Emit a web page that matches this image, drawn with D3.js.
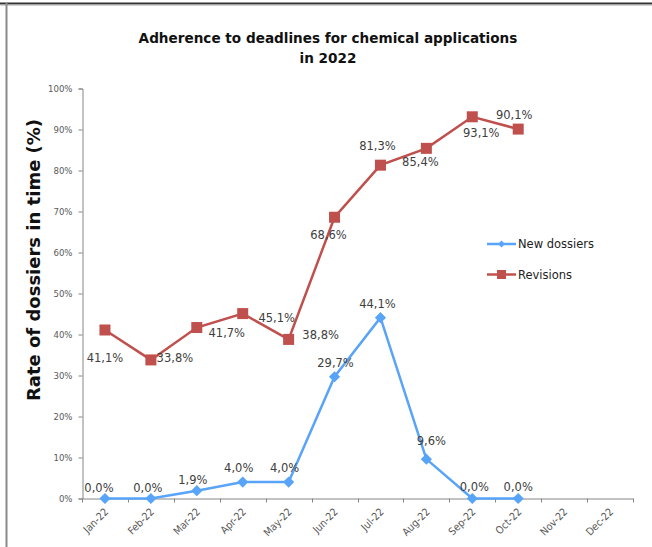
<!DOCTYPE html>
<html>
<head>
<meta charset="utf-8">
<script src="https://cdn.jsdelivr.net/npm/d3@7"></script>
<style>
  body { margin: 0; background: #fff; }
  svg { display: block; }
  .tick text { font-family: "DejaVu Sans Condensed", "DejaVu Sans", sans-serif; font-stretch: condensed; fill: #595959; }
  .lbl { font-family: "DejaVu Sans", Verdana, sans-serif; font-size: 11.5px; fill: #404040; }
</style>
</head>
<body>
<script>
"use strict";
const months = ["Jan-22","Feb-22","Mar-22","Apr-22","May-22","Jun-22","Jul-22","Aug-22","Sep-22","Oct-22","Nov-22","Dec-22"];
const newDossiers = [0.0, 0.0, 1.9, 4.0, 4.0, 29.7, 44.1, 9.6, 0.0, 0.0];
const revisions = [41.1, 33.8, 41.7, 45.1, 38.8, 68.6, 81.3, 85.4, 93.1, 90.1];
const yTicks = [0, 10, 20, 30, 40, 50, 60, 70, 80, 90, 100];

// where Excel put each data label, relative to its marker
const newLabelOffsets = [[-6,-11],[-3,-11],[-4,-11],[-4,-14],[-4,-14],[1,-14],[-3,-14],[5,-18],[2,-12],[0,-12]];
const revLabelOffsets = [[0,28],[24,-2],[30,5],[34,4],[32,-4],[-6,18],[-3,-19],[-6,14],[9,16],[-4,-14]];

const W = 652, H = 547;
const svg = d3.select("body").append("svg").attr("width", W).attr("height", H);

// frame
svg.append("line").attr("x1", 0).attr("x2", W).attr("y1", 3.5).attr("y2", 3.5)
  .attr("stroke", "#333").attr("stroke-width", 2);
svg.append("line").attr("x1", 0).attr("x2", W).attr("y1", 5).attr("y2", 5)
  .attr("stroke", "#aaa").attr("stroke-width", 1);
svg.append("line").attr("x1", 6.5).attr("x2", 6.5).attr("y1", 3).attr("y2", H)
  .attr("stroke", "#8a8a8a").attr("stroke-width", 2);

const x = d3.scaleBand().domain(months).range([82, 633]).padding(0);
const y = d3.scaleLinear().domain([0, 100]).range([498.5, 88.5]);

// title
const title = svg.append("text").attr("text-anchor", "middle")
  .style("font-family", "DejaVu Sans, Verdana, sans-serif").style("font-weight", "bold")
  .style("font-size", "13.6px").attr("fill", "#111");
title.append("tspan").attr("x", 328).attr("y", 43).text("Adherence to deadlines for chemical applications");
title.append("tspan").attr("x", 328).attr("y", 63).text("in 2022");

// y axis title
svg.append("text").attr("transform", "translate(40,260) rotate(-90)").attr("text-anchor", "middle")
  .style("font-family", "DejaVu Sans, Verdana, sans-serif").style("font-weight", "bold")
  .style("font-size", "18px").attr("fill", "#111").text("Rate of dossiers in time (%)");

// axes
const yAxis = svg.append("g").attr("transform", "translate(82.5,0)")
  .call(d3.axisLeft(y).tickValues(yTicks).tickFormat(d => d + "%").tickSize(4).tickPadding(6));
yAxis.selectAll("text").style("font-size", "9.5px");

const xAxis = svg.append("g").attr("transform", `translate(0,${y(0)})`)
  .call(d3.axisBottom(x).tickSize(0).tickFormat(""));
xAxis.selectAll(".tick").remove();
xAxis.selectAll(".bnd").data(months.concat(["end"])).join("line")
  .attr("x1", (d, i) => Math.round(82 + i * x.bandwidth()) + 0.5)
  .attr("x2", (d, i) => Math.round(82 + i * x.bandwidth()) + 0.5)
  .attr("y1", 0).attr("y2", 4).attr("stroke", "#868686");
xAxis.selectAll(".mlab").data(months).join("text")
  .attr("transform", d => `translate(${x(d) + x.bandwidth() / 2 + 4},${14}) rotate(-45)`)
  .attr("text-anchor", "end")
  .style("font-family", "DejaVu Sans Condensed, DejaVu Sans, sans-serif").style("font-stretch", "condensed")
  .style("font-size", "10.5px").attr("fill", "#595959").text(d => d);

svg.selectAll(".domain, .tick line").attr("stroke", "#868686");

const cx = i => x(months[i]) + x.bandwidth() / 2;
const line = d3.line().x((d, i) => cx(i)).y(d => y(d));

const blue = "#58A4F8", red = "#C0504D";

// revisions
svg.append("path").datum(revisions).attr("d", line)
  .attr("fill", "none").attr("stroke", red).attr("stroke-width", 2.5);
svg.selectAll(".rev").data(revisions).join("rect")
  .attr("x", (d, i) => cx(i) - 5.5).attr("y", d => y(d) - 5.5)
  .attr("width", 11).attr("height", 11).attr("fill", red);

// new dossiers
svg.append("path").datum(newDossiers).attr("d", line)
  .attr("fill", "none").attr("stroke", blue).attr("stroke-width", 2.5);
const diamond = d3.symbol().type(d3.symbolDiamond2).size(80);
svg.selectAll(".nd").data(newDossiers).join("path")
  .attr("d", diamond).attr("transform", (d, i) => `translate(${cx(i)},${y(d)})`)
  .attr("fill", blue);

const fmt = v => v.toFixed(1).replace(".", ",") + "%";

svg.selectAll(".revlbl").data(revisions).join("text").attr("class", "lbl")
  .attr("x", (d, i) => cx(i) + revLabelOffsets[i][0]).attr("y", (d, i) => y(d) + revLabelOffsets[i][1])
  .attr("text-anchor", "middle").attr("dominant-baseline", "central").text(fmt);
svg.selectAll(".ndlbl").data(newDossiers).join("text").attr("class", "lbl")
  .attr("x", (d, i) => cx(i) + newLabelOffsets[i][0]).attr("y", (d, i) => y(d) + newLabelOffsets[i][1])
  .attr("text-anchor", "middle").attr("dominant-baseline", "central").text(fmt);

// legend
const legend = svg.append("g").attr("transform", "translate(487,244)");
const items = [{name: "New dossiers", color: blue, shape: "d"}, {name: "Revisions", color: red, shape: "s"}];
items.forEach((it, i) => {
  const g = legend.append("g").attr("transform", `translate(0,${i * 30.5})`);
  g.append("line").attr("x1", 0).attr("x2", 29).attr("stroke", it.color).attr("stroke-width", 2.5);
  if (it.shape === "d") {
    g.append("path").attr("d", d3.symbol().type(d3.symbolDiamond2).size(30)).attr("transform", "translate(14.5,0)").attr("fill", it.color);
  } else {
    g.append("rect").attr("x", 10).attr("y", -4.5).attr("width", 9).attr("height", 9).attr("fill", it.color);
  }
  g.append("text").attr("x", 31).attr("dominant-baseline", "central")
    .style("font-family", "DejaVu Sans, Verdana, sans-serif").style("font-size", "11.5px")
    .attr("fill", "#222").text(it.name);
});
</script>
</body>
</html>
